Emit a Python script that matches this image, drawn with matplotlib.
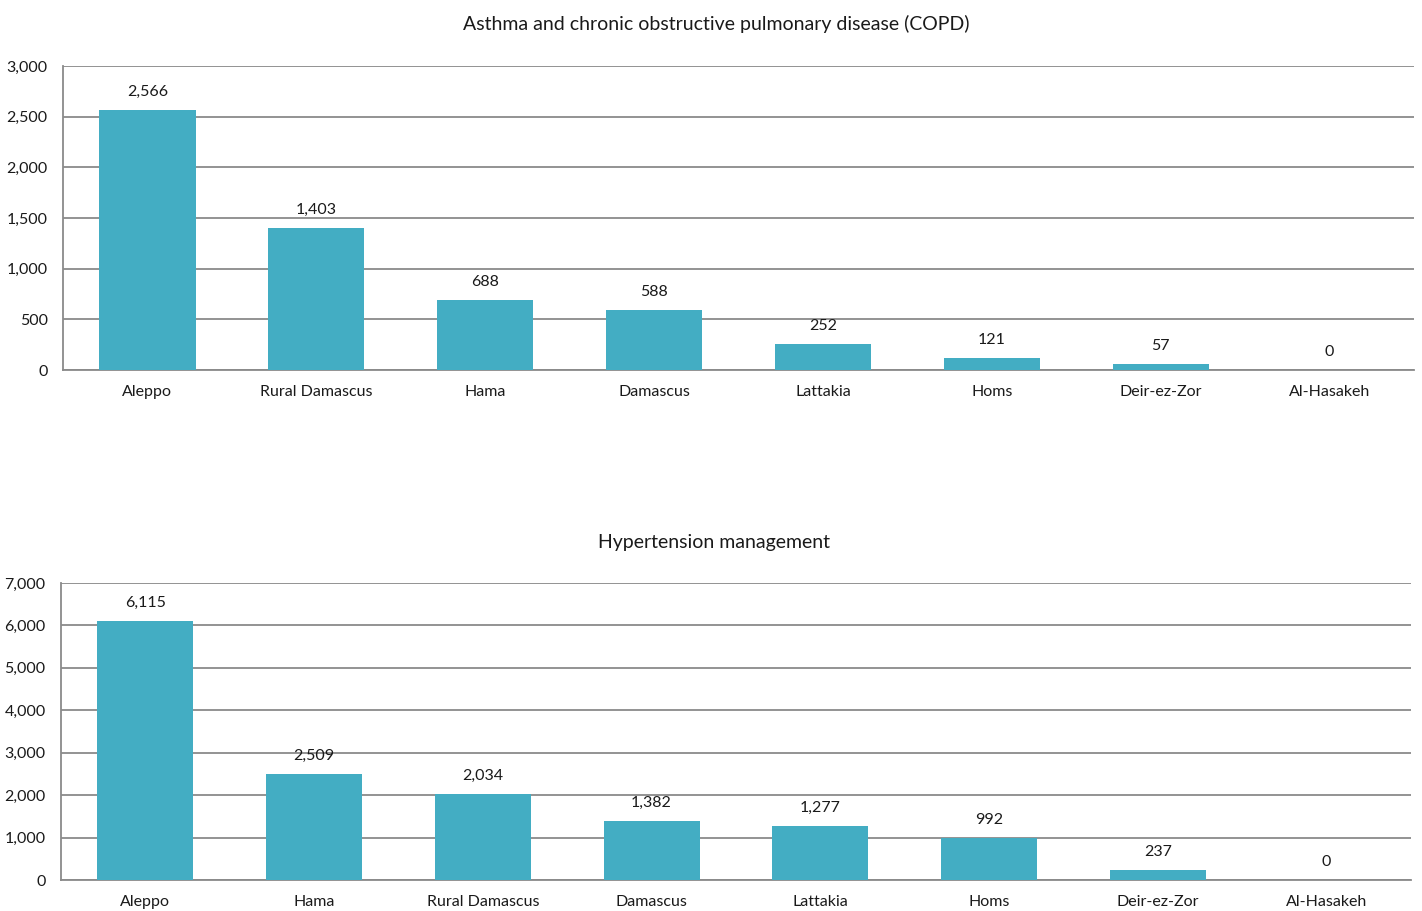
import matplotlib
matplotlib.use("Agg")
import matplotlib.pyplot as plt
from matplotlib.ticker import FuncFormatter, MultipleLocator

plt.rcParams['font.family'] = ['Lato', 'DejaVu Sans']

title1 = "Asthma and chronic obstructive pulmonary disease (COPD)"
cats1 = ["Aleppo", "Rural Damascus", "Hama", "Damascus", "Lattakia", "Homs", "Deir-ez-Zor", "Al-Hasakeh"]
vals1 = [2566, 1403, 688, 588, 252, 121, 57, 0]

title2 = "Hypertension management"
cats2 = ["Aleppo", "Hama", "Rural Damascus", "Damascus", "Lattakia", "Homs", "Deir-ez-Zor", "Al-Hasakeh"]
vals2 = [6115, 2509, 2034, 1382, 1277, 992, 237, 0]

BAR = "#43adc3"
GRID = "#8a8a8a"
TXT = "#1a1a1a"

fig = plt.figure(figsize=(14.22, 9.11), dpi=100)
r1 = [63/1422, 1-370/911, (1414-63)/1422, (370-66)/911]
r2 = [61/1422, 1-880/911, (1411-61)/1422, (880-583)/911]
ax1 = fig.add_axes(r1)
ax2 = fig.add_axes(r2)

def draw(ax, rect, cats, vals, title, ymax, step, pad, title_px):
    x = range(len(cats))
    ax.bar(x, vals, width=0.57, color=BAR, zorder=3)
    ax.set_xlim(-0.5, len(cats)-0.5)
    ax.set_ylim(0, ymax)
    ax.yaxis.set_major_locator(MultipleLocator(step))
    ax.yaxis.set_major_formatter(FuncFormatter(lambda v, p: f"{int(v):,}"))
    ax.set_xticks(list(x))
    ax.set_xticklabels(cats)
    ax.tick_params(axis='both', length=0, labelsize=11.5, colors=TXT)
    ax.tick_params(axis='x', pad=11)
    ax.tick_params(axis='y', pad=11)
    ax.grid(axis='y', color=GRID, linewidth=1.3, zorder=0)
    for s in ["top", "right"]:
        ax.spines[s].set_visible(False)
    for s in ["left", "bottom"]:
        ax.spines[s].set_color(GRID)
        ax.spines[s].set_linewidth(1.3)
    for xi, v in zip(x, vals):
        ax.annotate(f"{v:,}", (xi, v), xytext=(0, 8), textcoords="offset points",
                    ha="center", va="bottom", fontsize=11.5, color=TXT)
    tx = (title_px/1422 - rect[0]) / rect[2]
    ax.set_title(title, fontsize=14, pad=pad, color=TXT, x=tx)

draw(ax1, r1, cats1, vals1, title1, 3000, 500, 26, 716)
draw(ax2, r2, cats2, vals2, title2, 7000, 1000, 25, 714)

fig.savefig("out.png", dpi=100)
